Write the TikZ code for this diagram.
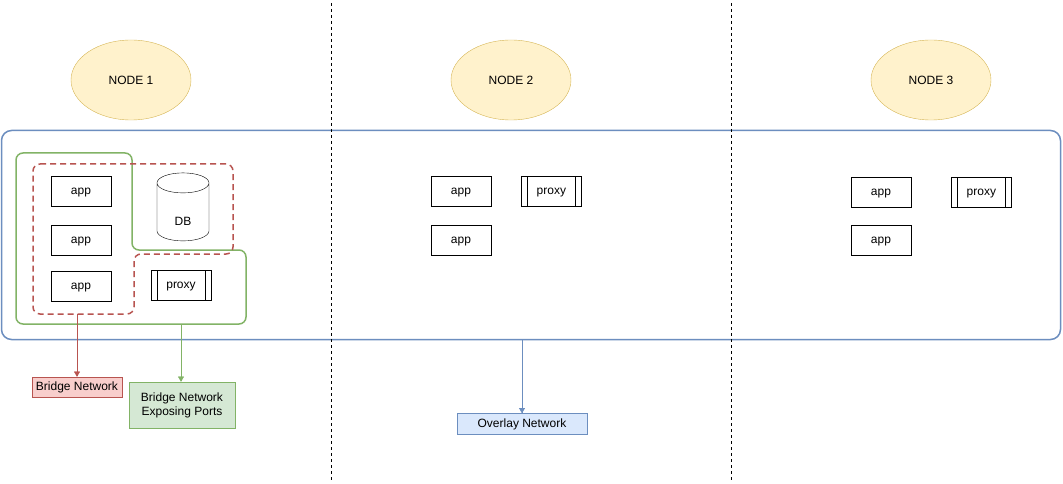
\documentclass[tikz,border=0pt]{standalone}
\usepackage{fontspec}
\setmainfont{Liberation Sans}
\usepackage[rgb]{xcolor}
\usepackage{tikz}
\usetikzlibrary{shapes}
\usetikzlibrary{arrows}
\usetikzlibrary{positioning}

\definecolor{hostfill}{HTML}{FFF2CC}
\definecolor{hostline}{HTML}{D6B656}
\definecolor{overlayfill}{HTML}{DAE8FC}
\definecolor{overlayline}{HTML}{6C8EBF}
\definecolor{localfill}{HTML}{F8CECC}
\definecolor{localline}{HTML}{B85450}
\definecolor{portsfill}{HTML}{D5E8D4}
\definecolor{portsline}{HTML}{82B366}

\begin{document}
\begin{tikzpicture}[
            x=1pt, y=-1pt,
            every node/.style={font=\fontsize{12}{14}\selectfont, inner sep=0pt},
            host/.style={ellipse, draw=hostline, fill=hostfill, minimum width=120pt, minimum height=80pt},
            oneline/.style={text height=10pt, text depth=3pt},
            appbox/.style={draw=black, oneline, minimum width=60pt, minimum height=30pt},
            proxybox/.style={appbox, path picture={
                \draw ([xshift=6pt]path picture bounding box.north west) -- ([xshift=6pt]path picture bounding box.south west);
                \draw ([xshift=-6pt]path picture bounding box.north east) -- ([xshift=-6pt]path picture bounding box.south east);}},
            dbbox/.style={cylinder, shape border rotate=90, aspect=1.2, draw=black, fill=white,
                minimum width=52pt, minimum height=68pt, text height=26pt, text depth=0pt},
            netlabel/.style={draw, align=center},
            link/.style={draw, -triangle 60},
            node distance=19pt
        ]
            \useasboundingbox (0,0) rectangle (1063,484);

            % the three hosts
            \node [host] (host1) at (131,80) {NODE 1};
            \node [host] (host2) at (511,80) {NODE 2};
            \node [host] (host3) at (931,80) {NODE 3};

            % overlay network over all hosts
            \node [draw=overlayline, line width=1.5pt, rounded corners=10pt, fill=white,
                   minimum width=1059pt, minimum height=209pt] (cluster) at (531,235) {};

            \draw [black, dash pattern=on 3pt off 3pt] (331,3) -- (331,481);
            \draw [black, dash pattern=on 3pt off 3pt] (731,3) -- (731,481);

            % node 1
            \draw [portsline, line width=1.5pt, rounded corners=7pt]
                (16,153) -- (132,153) -- (132,250) -- (246,250) -- (246,324) -- (16,324) -- cycle;
            \draw [localline, line width=1.5pt, dash pattern=on 6pt off 4pt, rounded corners=7pt]
                (33,164) -- (233,164) -- (233,254) -- (134,254) -- (134,314) -- (33,314) -- cycle;
            \node [appbox] (app1a) at (81,191) {app};
            \node [appbox, below=19pt of app1a] (app1b) {app};
            \node [appbox, below=15pt of app1b] (app1c) {app};
            \node [dbbox] (db) at (183,212) {DB};
            \node [proxybox] (proxy1) at (181,285) {proxy};

            % node 2
            \node [appbox] (app2a) at (461,191) {app};
            \node [appbox, below=19pt of app2a] (app2b) {app};
            \node [proxybox, right=30pt of app2a] (proxy2) {proxy};

            % node 3
            \node [appbox] (app3a) at (881,192) {app};
            \node [appbox, below=18pt of app3a] (app3b) {app};
            \node [proxybox, right=40pt of app3a] (proxy3) {proxy};

            % networks
            \node [netlabel, oneline, draw=localline, fill=localfill, minimum width=90pt, minimum height=20pt] (bridge) at (77,387) {Bridge Network};
            \node [netlabel, draw=portsline, fill=portsfill, minimum width=106pt, minimum height=46pt] (ports) at (182,405) {Bridge Network\\Exposing Ports};
            \node [netlabel, oneline, draw=overlayline, fill=overlayfill, minimum width=130pt, minimum height=21pt] (overlay) at (522,424) {Overlay Network};

            \coordinate (redfoot) at (77,314);
            \coordinate (greenfoot) at (181,324);
            \path [link, draw=localline] (redfoot) -- (bridge);
            \path [link, draw=portsline] (greenfoot) -- (greenfoot |- ports.north);
            \path [link, draw=overlayline] (overlay |- cluster.south) -- (overlay);
        \end{tikzpicture}
\end{document}
